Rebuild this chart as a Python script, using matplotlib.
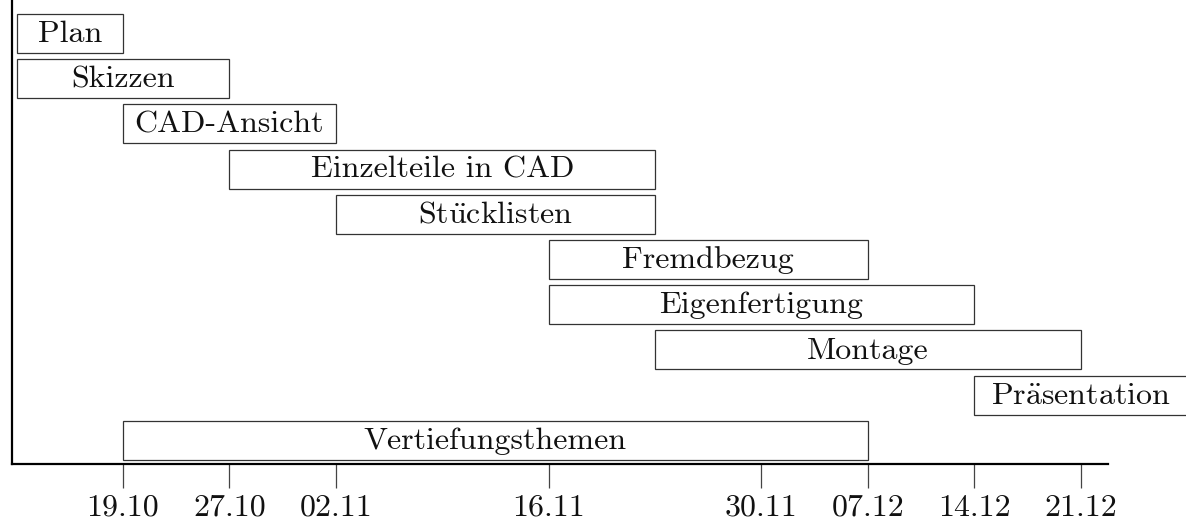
import matplotlib
matplotlib.use("Agg")
import matplotlib.pyplot as plt

tasks = ["Plan", "Skizzen", "CAD-Ansicht", "Einzelteile in CAD", "St" + r"$\ddot{\mathrm{u}}$" + "cklisten",
         "Fremdbezug", "Eigenfertigung", "Montage", "Pr" + r"$\ddot{\mathrm{a}}$" + "sentation", "Vertiefungsthemen"]
start = [-1, -1, 0, 1, 2, 4, 4, 5, 8, 0]
end = [0, 1, 2, 5, 5, 7, 8, 9, 10, 7]
tick_pos = [0, 1, 2, 4, 6, 7, 8, 9]
tick_labels = ["19.10", "27.10", "02.11", "16.11", "30.11", "07.12", "14.12", "21.12"]

plt.rcParams['font.family'] = ['cmr10', 'DejaVu Serif']
plt.rcParams['mathtext.fontset'] = 'cm'
plt.rcParams['axes.formatter.use_mathtext'] = True

W, H = 1186, 526
fig = plt.figure(figsize=(W / 100, H / 100), dpi=100)
# axes: left spine at x=12px, bottom spine at y=464px (from top), right at 1108px
ax = fig.add_axes([12 / W, (H - 464) / H, (1108 - 12) / W, 464 / H])

px_per_week = 106.4
x0 = 123
ax.set_xlim((12 - x0) / px_per_week, (1108 - x0) / px_per_week)
row_px = 45.2
y0 = 33.5
ax.set_ylim((464 - y0) / row_px, -y0 / row_px)

for i, (t, s, e) in enumerate(zip(tasks, start, end)):
    ax.barh(i, e - s, left=s, height=0.865, color="white", edgecolor="#333333",
            linewidth=0.9, clip_on=False, zorder=2)
    ax.text((s + e) / 2, i + 0.02, t, ha="center", va="center", fontsize=23,
            color="#111111", clip_on=False, zorder=3)

for sp in ["top", "right"]:
    ax.spines[sp].set_visible(False)
for sp in ["bottom", "left"]:
    ax.spines[sp].set_linewidth(1.6)
    ax.spines[sp].set_color("black")

ax.set_xticks(tick_pos)
ax.set_xticklabels(tick_labels, fontsize=23, color="#111111")
ax.tick_params(axis="x", direction="out", length=17, width=0.9, color="#444444", pad=5)
ax.set_yticks([])

fig.savefig("out.png", dpi=100)
